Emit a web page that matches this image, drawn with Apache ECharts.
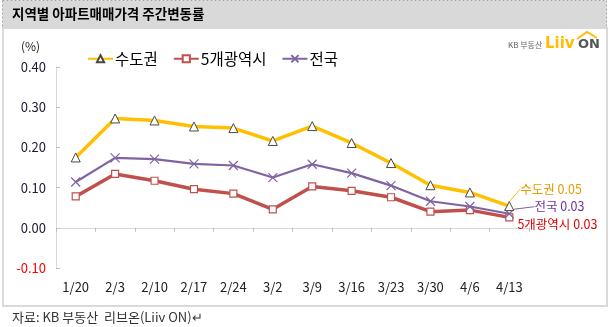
<!DOCTYPE html>
<html><head><meta charset="utf-8">
<script src="https://cdn.jsdelivr.net/npm/echarts@6/dist/echarts.min.js"></script>
<style>html,body{margin:0;padding:0;background:#fff}#c{width:610px;height:327px}</style>
</head><body><div id="c"></div>
<script>
const categories = ['1/20','2/3','2/10','2/17','2/24','3/2','3/9','3/16','3/23','3/30','4/6','4/13'];
const sudogwon = [0.175,0.272,0.267,0.252,0.248,0.216,0.253,0.211,0.161,0.106,0.088,0.054];
const metro5   = [0.078,0.134,0.117,0.096,0.085,0.046,0.103,0.092,0.076,0.040,0.044,0.026];
const national = [0.114,0.174,0.171,0.159,0.155,0.125,0.158,0.136,0.105,0.066,0.053,0.035];
const seriesNames = ['수도권','5개광역시','전국'];
const endLabels = ['0.05','0.03','0.03'];

const FONT = "'Noto Sans CJK KR','Noto Sans',sans-serif";
const chart = echarts.init(document.getElementById('c'), null, {renderer:'canvas'});
const last = categories.length-1;

function withEndLabel(arr, text, color) {
  return arr.map((v,i)=> i===last ? {value:v, label:{show:true, position:'right', distance:2, formatter:text, color:color, fontSize:12.5, fontFamily:FONT}} : v);
}
function shift(dx, dy) {
  return p => (p.dataIndex===last ? {dx:dx, dy:dy} : {});
}

chart.setOption({
  animation:false,
  textStyle:{fontFamily:FONT},
  graphic:[
    {type:'rect', shape:{x:2.5,y:0.5,width:604,height:27}, style:{fill:'#d9d9d9', stroke:'#a6a6a6', lineDash:[2,2], lineWidth:1}, z:0},
    {type:'text', x:12, y:7, style:{text:'지역별 아파트매매가격 주간변동률', font:"bold 13.5px 'Noto Sans CJK KR'", fill:'#000'}},
    {type:'rect', shape:{x:3,y:28,width:604,height:278}, style:{fill:'none', stroke:'#d9d9d9', lineWidth:2}, z:0},
    {type:'text', x:21, y:40, style:{text:'(%)', font:"12px 'Noto Sans CJK KR'", fill:'#222'}},
    {type:'text', x:508, y:41, style:{text:'KB 부동산', font:"8px 'Noto Sans CJK KR'", fill:'#666'}},
    {type:'text', x:545, y:37, style:{text:'Liiv', font:"bold 15px 'DejaVu Sans'", fill:'#FFBC00'}},
    {type:'text', x:578, y:38, style:{text:'ON', font:"bold 13px 'DejaVu Sans'", fill:'#555'}},
    {type:'polyline', shape:{points:[[577,39],[587,32],[597,38]]}, style:{stroke:'#FFBC00', lineWidth:2, fill:'none'}},
    {type:'text', x:12, y:311, style:{text:'자료: KB 부동산  리브온(Liiv ON)↵', font:"13px 'Noto Sans CJK KR'", fill:'#333'}}
  ],
  legend:{
    top:46, left:82, itemGap:15, itemWidth:25, itemHeight:9,
    textStyle:{fontSize:15.5, color:'#000', fontFamily:FONT, padding:[0,0,0,-3]},
    data:seriesNames
  },
  grid:{left:56, right:81, top:67, bottom:59},
  xAxis:[
    {type:'category', data:categories, boundaryGap:true,
     axisLine:{onZero:true, lineStyle:{color:'#d9d9d9', width:1}},
     axisTick:{show:true, length:4, lineStyle:{color:'#bfbfbf'}},
     axisLabel:{show:false}},
    {type:'category', data:categories, boundaryGap:true, position:'bottom', gridIndex:0,
     axisLine:{show:false}, axisTick:{show:false},
     axisLabel:{show:true, margin:13, fontSize:13, color:'#222', fontFamily:FONT}}
  ],
  yAxis:{type:'value', min:-0.1, max:0.4, interval:0.1,
    axisLine:{show:true, lineStyle:{color:'#d9d9d9'}},
    axisTick:{show:true, inside:true, length:4, lineStyle:{color:'#bfbfbf'}},
    splitLine:{show:false},
    axisLabel:{margin:10, fontSize:13, fontFamily:FONT,
      formatter:v=>v.toFixed(2),
      color:v=> (v<0 ? '#FF0000' : '#1a1a33')}
  },
  series:[
    {name:seriesNames[0], type:'line', xAxisIndex:0, data:withEndLabel(sudogwon, '수도권 '+endLabels[0], '#E69B00'),
     symbol:'triangle', symbolSize:9, lineStyle:{color:'#FFC000', width:3.5},
     itemStyle:{color:'#fff', borderColor:'#4a4a3a', borderWidth:1}, z:4,
     labelLayout:shift(4,-17),
     labelLine:{show:true, length2:0, smooth:false, minTurnAngle:0, lineStyle:{color:'#FFC000', width:1}}},
    {name:seriesNames[1], type:'line', xAxisIndex:0, data:withEndLabel(metro5, '5개광역시 '+endLabels[1], '#E00000'),
     symbol:'rect', symbolSize:7, lineStyle:{color:'#C0504D', width:3.5},
     itemStyle:{color:'#fff', borderColor:'#C0504D', borderWidth:1.2}, z:2,
     labelLayout:shift(2,7)},
    {name:seriesNames[2], type:'line', xAxisIndex:0, data:withEndLabel(national, '전국 '+endLabels[2], '#7030A0'),
     symbol:'path://M0,0L10,10M10,0L0,10', symbolSize:9, lineStyle:{color:'#8064A2', width:2.2},
     itemStyle:{color:'#8064A2', borderColor:'#8064A2', borderWidth:1.2}, z:3,
     labelLayout:shift(18,-7),
     labelLine:{show:true, length2:0, smooth:false, lineStyle:{color:'#8064A2', width:1}}}
  ]
});
</script></body></html>
